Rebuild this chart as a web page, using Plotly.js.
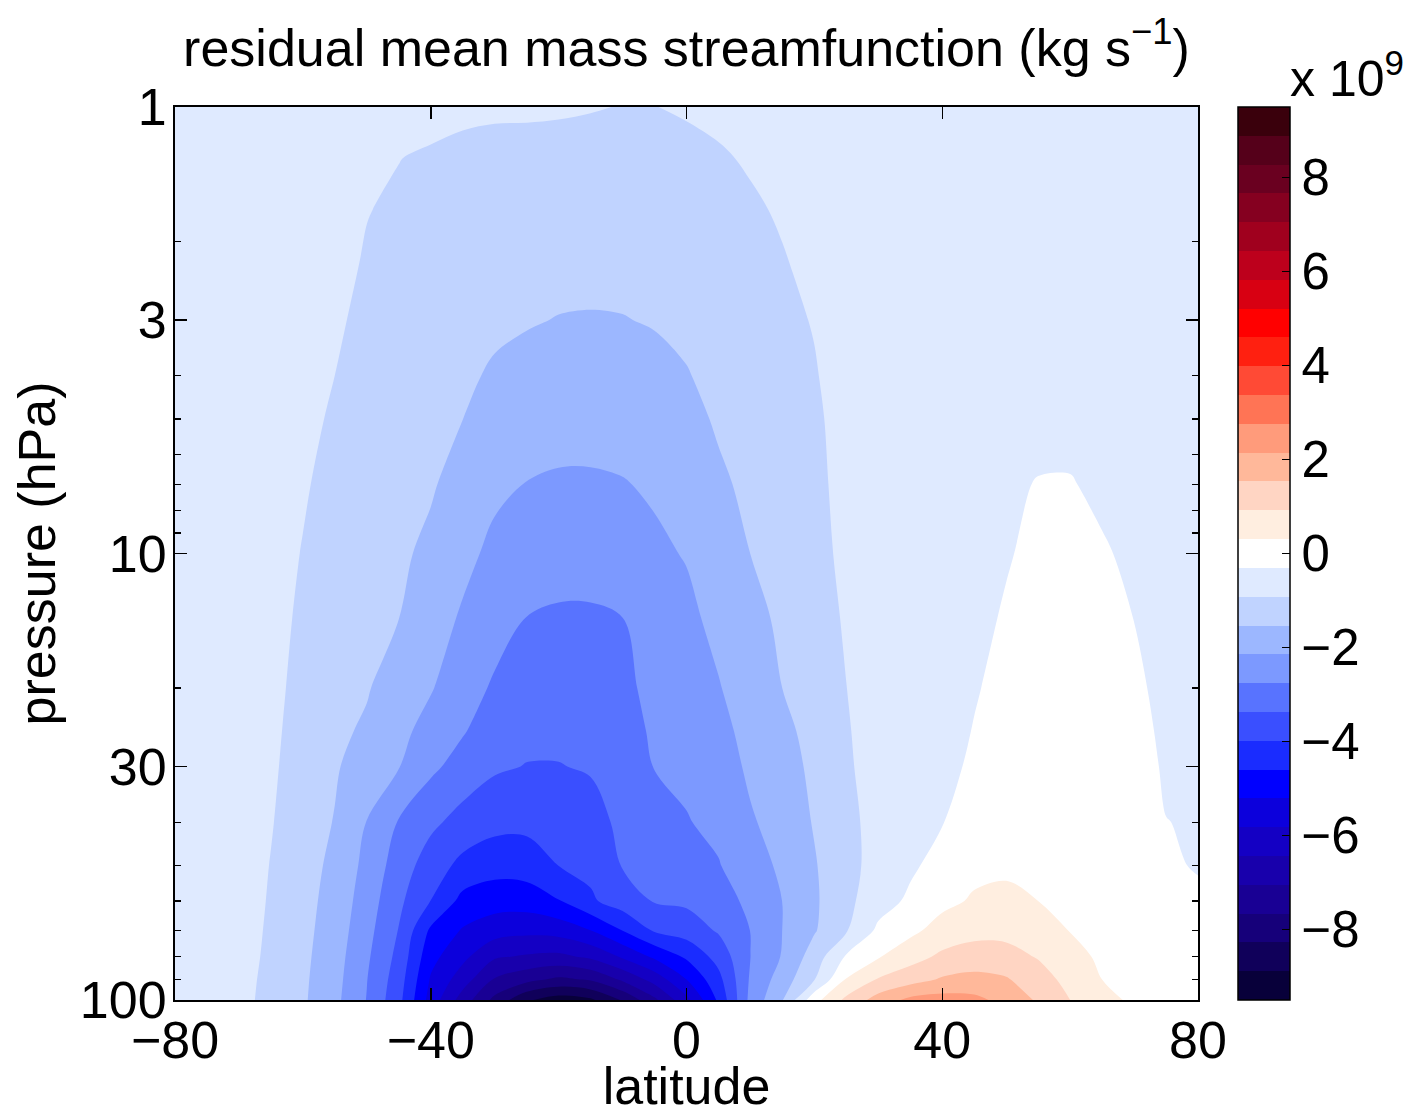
<!DOCTYPE html>
<html><head><meta charset="utf-8">
<script src="https://cdn.plot.ly/plotly-3.0.1.min.js"></script>
<style>html,body{margin:0;padding:0;background:#fff}</style>
</head><body>
<div id="chart" style="width:1415px;height:1115px"></div>
<script>
// latitude (deg) columns and pressure (hPa) rows
const latitude = [-80,-75,-70,-65,-60,-55,-50,-45,-40,-35,-30,-25,-20,-15,-10,-5,0,5,10,15,20,25,30,35,40,45,50,55,60,65,70,75,80];
const pressure = [1,1.3,1.7,2.2,3,4,5,7,10,14,20,25,30,40,50,60,70,80,90,100];

// residual mean mass streamfunction (x 1e9 kg/s), one row per pressure level
const psi_p1   = [-0.45,-0.45,-0.46,-0.47,-0.48,-0.5,-0.54,-0.6,-0.75,-0.85,-0.87,-0.87,-0.88,-0.9,-0.93,-0.925,-0.88,-0.83,-0.7,-0.62,-0.57,-0.53,-0.51,-0.49,-0.48,-0.47,-0.46,-0.45,-0.44,-0.44,-0.43,-0.43,-0.42];
const psi_p1_3 = [-0.46,-0.47,-0.5,-0.55,-0.62,-0.72,-0.82,-0.91,-0.98,-1.0,-1.02,-1.03,-1.04,-1.06,-1.06,-1.05,-1.02,-0.96,-0.88,-0.78,-0.68,-0.6,-0.55,-0.52,-0.5,-0.48,-0.47,-0.46,-0.45,-0.45,-0.44,-0.44,-0.43];
const psi_p1_7 = [-0.47,-0.48,-0.52,-0.58,-0.68,-0.8,-0.905,-0.985,-1.04,-1.09,-1.15,-1.18,-1.2,-1.22,-1.22,-1.2,-1.15,-1.06,-0.97,-0.88,-0.76,-0.66,-0.58,-0.54,-0.51,-0.49,-0.48,-0.47,-0.46,-0.46,-0.45,-0.45,-0.44];
const psi_p2_2 = [-0.48,-0.49,-0.53,-0.58,-0.67,-0.79,-0.955,-1.05,-1.12,-1.2,-1.28,-1.32,-1.36,-1.375,-1.37,-1.33,-1.27,-1.16,-1.05,-0.94,-0.83,-0.72,-0.63,-0.57,-0.53,-0.51,-0.5,-0.49,-0.48,-0.47,-0.47,-0.46,-0.46];
const psi_p3   = [-0.48,-0.5,-0.55,-0.62,-0.72,-0.853,-1.03,-1.13,-1.21,-1.32,-1.43,-1.49,-1.55,-1.565,-1.55,-1.495,-1.42,-1.28,-1.15,-1.02,-0.895,-0.74,-0.68,-0.61,-0.56,-0.53,-0.51,-0.5,-0.49,-0.48,-0.48,-0.47,-0.47];
const psi_p4   = [-0.49,-0.52,-0.57,-0.66,-0.78,-0.92,-1.1,-1.21,-1.3,-1.44,-1.6,-1.71,-1.77,-1.78,-1.76,-1.69,-1.56,-1.39,-1.24,-1.1,-0.95,-0.73,-0.7,-0.63,-0.58,-0.55,-0.52,-0.49,-0.48,-0.5,-0.5,-0.49,-0.49];
const psi_p5   = [-0.5,-0.53,-0.59,-0.68,-0.8,-0.98,-1.16,-1.26,-1.37,-1.53,-1.77,-1.89,-1.94,-1.95,-1.92,-1.84,-1.69,-1.47,-1.31,-1.16,-1.0,-0.74,-0.66,-0.6,-0.55,-0.5,-0.46,-0.42,-0.42,-0.45,-0.48,-0.49,-0.49];
const psi_p7   = [-0.51,-0.55,-0.62,-0.74,-0.87,-1.07,-1.24,-1.35,-1.475,-1.75,-2.02,-2.16,-2.215,-2.215,-2.175,-2.07,-1.89,-1.62,-1.42,-1.25,-1.08,-0.714,-0.64,-0.57,-0.5,-0.43,-0.37,-0.29,-0.285,-0.38,-0.45,-0.48,-0.49];
const psi_p10  = [-0.52,-0.56,-0.63,-0.73,-0.94,-1.17,-1.32,-1.44,-1.65,-1.98,-2.29,-2.47,-2.54,-2.54,-2.48,-2.25,-2.11,-1.81,-1.53,-1.35,-1.16,-0.75,-0.62,-0.53,-0.45,-0.39,-0.335,-0.22,-0.2,-0.27,-0.376,-0.44,-0.46];
const psi_p14  = [-0.53,-0.56,-0.62,-0.72,-1.02,-1.26,-1.41,-1.53,-1.87,-2.22,-2.54,-2.77,-2.83,-2.83,-2.765,-2.4,-2.28,-1.99,-1.69,-1.44,-1.25,-0.84,-0.64,-0.55,-0.46,-0.4,-0.27,-0.15,-0.14,-0.2,-0.31,-0.42,-0.44];
const psi_p20  = [-0.54,-0.57,-0.64,-0.76,-1.1,-1.36,-1.49,-1.81,-2.1,-2.52,-2.83,-3.05,-3.09,-3.06,-2.925,-2.56,-2.445,-2.18,-1.85,-1.53,-1.33,-0.923,-0.777,-0.63,-0.48,-0.336,-0.2,-0.1,-0.08,-0.12,-0.22,-0.43,-0.44];
const psi_p25  = [-0.55,-0.58,-0.65,-0.8,-1.145,-1.42,-1.61,-1.98,-2.37,-2.71,-3.08,-3.23,-3.25,-3.2,-3.03,-2.66,-2.55,-2.32,-1.96,-1.65,-1.38,-0.945,-0.78,-0.62,-0.45,-0.29,-0.15,-0.05,-0.03,-0.06,-0.15,-0.4,-0.42];
const psi_p30  = [-0.56,-0.59,-0.66,-0.83,-1.185,-1.47,-1.82,-2.12,-2.63,-3.0,-3.29,-3.39,-3.39,-3.32,-3.11,-2.74,-2.64,-2.44,-2.04,-1.75,-1.42,-0.965,-0.78,-0.6,-0.42,-0.24,-0.1,0.0,0.02,-0.02,-0.12,-0.36,-0.38];
const psi_p40  = [-0.57,-0.6,-0.67,-0.885,-1.25,-1.56,-2.16,-2.8,-3.24,-3.59,-3.8,-3.83,-3.72,-3.59,-3.24,-2.97,-2.79,-2.62,-2.21,-1.91,-1.49,-1.03,-0.776,-0.55,-0.32,-0.15,-0.05,0.05,0.05,0.0,-0.08,-0.3,-0.34];
const psi_p50  = [-0.57,-0.58,-0.6,-0.94,-1.3,-1.67,-2.32,-3.05,-3.67,-4.15,-4.36,-4.31,-3.98,-3.82,-3.34,-3.17,-3.06,-2.79,-2.42,-2.03,-1.58,-1.09,-0.725,-0.4,-0.1,0.15,0.22,0.2,0.12,0.05,-0.05,-0.24,-0.34];
const psi_p60  = [-0.57,-0.58,-0.6,-0.98,-1.34,-1.75,-2.45,-3.24,-3.99,-4.78,-4.95,-4.93,-4.63,-4.08,-3.67,-3.33,-3.26,-3.07,-2.59,-2.14,-1.62,-1.07,-0.56,-0.2,0.15,0.376,0.42,0.306,0.2,0.08,-0.03,-0.12,-0.22];
const psi_p70  = [-0.58,-0.59,-0.62,-1.02,-1.37,-1.82,-2.56,-3.4,-4.71,-5.27,-5.56,-5.67,-5.59,-5.23,-4.6,-3.93,-3.71,-3.31,-2.75,-2.14,-1.58,-0.96,-0.18,0.17,0.55,0.75,0.75,0.61,0.29,0.15,0.05,-0.05,-0.12];
const psi_p80  = [-0.59,-0.6,-0.66,-1.05,-1.4,-1.89,-2.66,-3.55,-5.02,-5.67,-6.36,-6.51,-6.58,-6.32,-5.74,-5.1,-4.5,-3.76,-2.76,-2.1,-1.24,-0.24,0.26,0.68,1.04,1.17,1.13,0.88,0.52,0.2,0.1,0.0,-0.06];
const psi_p90  = [-0.6,-0.62,-0.71,-1.08,-1.43,-1.94,-2.74,-3.69,-5.27,-6.14,-7.11,-7.48,-7.78,-7.6,-6.95,-6.2,-5.21,-4.17,-2.68,-1.85,-0.94,0.35,0.97,1.28,1.6,1.72,1.59,1.18,0.73,0.306,0.18,0.05,-0.08];
const psi_p100 = [-0.6,-0.65,-0.74,-1.1,-1.45,-1.99,-2.78,-3.8,-5.46,-6.72,-7.83,-8.8,-9.2,-9.0,-8.21,-7.18,-5.99,-4.49,-2.58,-1.56,0.1,1.06,1.79,2.3,2.4,2.3,1.95,1.45,0.92,0.5,0.2,0.05,-0.1];

const xTickVals = [-80,-40,0,40,80];
const yTickVals = [1,3,10,30,100];
const yMinorVals = [2,4,5,6,7,8,9,20,40,50,60,70,80,90];
const cbTickVals = [-8,-6,-4,-2,0,2,4,6,8];
const cbRange = [-9.5, 9.5];

// 31 discrete colour bands spanning the colour-bar range
const bandColors = [
  '#08003a','#10005a','#16007a','#190094','#1800ac','#1400c4','#0c00dc','#0000ff',
  '#1a2cff','#3a4fff','#5873ff','#7c99ff','#9cb7ff','#c0d3ff','#dfeaff','#ffffff',
  '#ffeee0','#ffd5c3','#ffb89a','#ff9b7b','#ff7455','#ff4a35','#ff2010','#ff0000',
  '#d80012','#bd001c','#a0001e','#850020','#6a0020','#55001a','#3a000c'
];

const z = [psi_p1, psi_p1_3, psi_p1_7, psi_p2_2, psi_p3, psi_p4, psi_p5, psi_p7, psi_p10, psi_p14,
           psi_p20, psi_p25, psi_p30, psi_p40, psi_p50, psi_p60, psi_p70, psi_p80, psi_p90, psi_p100];

const nb = bandColors.length;
const step = (cbRange[1] - cbRange[0]) / nb;
// colour of each filled band (contour fill samples at band centres)
const fillScale = bandColors.map((c, i) => [i / (nb - 1), c]);
// stepped scale for the colour bar: full-width bands from -9.5 to 9.5
const barScale = [];
bandColors.forEach((c, i) => { barScale.push([i / nb, c]); barScale.push([(i + 1) / nb, c]); });

const FONT = 'Liberation Sans, Arial, Helvetica, sans-serif';
const tickFont = { family: FONT, size: 52, color: '#000' };

const contourTrace = {
  type: 'contour',
  x: latitude,
  y: pressure,
  z: z,
  autocontour: false,
  contours: { start: cbRange[0] + step, end: cbRange[1] - step, size: step, coloring: 'fill', showlines: false },
  line: { width: 0, smoothing: 1 },
  colorscale: fillScale,
  showscale: false,
  hoverinfo: 'skip'
};

// colour-bar carrier (no visible marks)
const scaleTrace = {
  type: 'scatter', mode: 'markers',
  x: [null], y: [null],
  hoverinfo: 'skip', showlegend: false,
  marker: {
    color: [0], cmin: cbRange[0], cmax: cbRange[1],
    colorscale: barScale, showscale: true,
    colorbar: {
      thickness: 52, thicknessmode: 'pixels',
      len: 893, lenmode: 'pixels',
      x: 1.0391, xanchor: 'left', xpad: 0,
      y: 0.5, yanchor: 'middle', ypad: 0,
      outlinecolor: '#000', outlinewidth: 1.5,
      tickmode: 'array', tickvals: cbTickVals,
      ticks: 'inside', ticklen: 8, tickwidth: 1.5, tickcolor: '#000',
      tickfont: { family: FONT, size: 51, color: '#000' }
    }
  }
};

const layout = {
  width: 1415, height: 1115,
  margin: { l: 175, r: 217, t: 107, b: 115, pad: 0 },
  paper_bgcolor: '#fff', plot_bgcolor: '#fff',
  font: { family: FONT, color: '#000' },
  showlegend: false,
  title: {
    text: 'residual mean mass streamfunction (kg s<sup>\u22121</sup>)',
    font: { family: FONT, size: 52, color: '#000' },
    xref: 'paper', x: 0.5, xanchor: 'center',
    yref: 'container', y: 0.957, yanchor: 'middle'
  },
  xaxis: {
    range: [-80, 80],
    tickmode: 'array', tickvals: xTickVals,
    ticks: 'inside', ticklen: 12, tickwidth: 1.5, tickcolor: '#000',
    showline: true, linecolor: '#000', linewidth: 2, mirror: 'ticks',
    showgrid: false, zeroline: false,
    tickfont: tickFont,
    ticklabelstandoff: -6,
    title: { text: 'latitude', font: { family: FONT, size: 52, color: '#000' }, standoff: 11 }
  },
  yaxis: {
    type: 'log', range: [2, 0],
    tickmode: 'array', tickvals: yTickVals, ticktext: yTickVals.map(String),
    ticks: 'inside', ticklen: 12, tickwidth: 1.5, tickcolor: '#000',
    minor: { tickmode: 'array', tickvals: yMinorVals, ticks: 'inside', ticklen: 6, tickwidth: 1.2, tickcolor: '#000', showgrid: false },
    showline: true, linecolor: '#000', linewidth: 2, mirror: 'ticks',
    showgrid: false, zeroline: false,
    tickfont: tickFont,
    ticklabelstandoff: -4,
    title: { text: 'pressure (hPa)', font: { family: FONT, size: 52, color: '#000' }, standoff: 8 }
  },
  annotations: [{
    text: 'x 10<sup>9</sup>',
    xref: 'paper', yref: 'paper',
    x: 1.1457, y: 1.036, xanchor: 'center', yanchor: 'middle',
    showarrow: false,
    font: { family: FONT, size: 50, color: '#000' }
  }]
};

Plotly.newPlot('chart', [contourTrace, scaleTrace], layout, { displayModeBar: false, staticPlot: true });
</script>
</body></html>
